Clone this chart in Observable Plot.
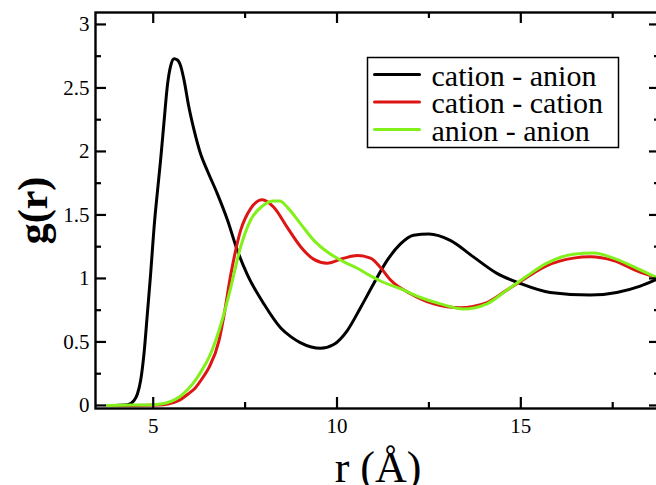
<!DOCTYPE html>
<html><head><meta charset="utf-8">
<script src="https://cdn.jsdelivr.net/npm/d3@7"></script>
<script src="https://cdn.jsdelivr.net/npm/@observablehq/plot@0.6"></script>
<style>
html,body{margin:0;padding:0;background:#fff;overflow:hidden;width:656px;height:485px;}
#chart svg{max-width:none !important;display:block;}
</style></head><body><div id="chart"></div><script>
// cation - anion
const rCA = [3.98,4.3,4.48,4.57,4.66,4.75,4.84,4.92,5.04,5.11,5.2,5.29,5.39,5.48,5.57,5.66,5.75,5.84,5.97,6.11,6.29,6.47,6.74,7.02,7.29,7.56,8.01,8.47,8.75,9.0,9.3,9.55,9.91,10.28,10.64,11.0,11.36,11.72,12.08,12.5,13.08,13.71,14.35,14.99,15.8,16.89,17.61,18.25,18.75];
const gCA = [0.0,0.005,0.04,0.09,0.2,0.41,0.72,1.0,1.46,1.67,1.93,2.22,2.53,2.68,2.73,2.72,2.67,2.56,2.35,2.17,1.98,1.85,1.67,1.46,1.22,1.03,0.80,0.61,0.54,0.495,0.46,0.45,0.48,0.59,0.77,0.96,1.14,1.27,1.34,1.35,1.30,1.17,1.04,0.96,0.89,0.87,0.89,0.94,1.0];
// cation - cation
const rCC = [3.76,4.5,5.15,5.4,5.7,5.95,6.15,6.35,6.52,6.79,6.92,7.11,7.38,7.65,7.97,8.28,8.65,9.01,9.37,9.73,10.19,10.55,10.91,11.2,11.45,12.0,12.63,13.36,13.7,14.08,14.63,15.17,15.71,16.43,16.89,17.52,18.16,18.75];
const gCC = [0.0,0.0,0.003,0.012,0.04,0.09,0.14,0.22,0.30,0.51,0.70,1.03,1.38,1.55,1.62,1.56,1.40,1.25,1.15,1.12,1.16,1.18,1.16,1.08,0.99,0.88,0.80,0.77,0.78,0.81,0.91,1.01,1.10,1.16,1.17,1.14,1.06,1.0];
// anion - anion
const rAA = [3.76,4.5,5.0,5.25,5.5,5.7,5.95,6.15,6.35,6.52,6.79,6.97,7.11,7.38,7.65,7.97,8.28,8.45,8.65,9.01,9.37,9.73,10.19,10.55,10.91,11.18,11.72,12.27,12.81,13.44,14.08,14.63,15.17,15.71,16.43,16.98,17.52,18.16,18.75];
const gAA = [0.0,0.003,0.006,0.013,0.035,0.065,0.13,0.2,0.29,0.38,0.59,0.77,0.93,1.25,1.46,1.57,1.61,1.61,1.56,1.43,1.30,1.21,1.13,1.08,1.02,0.98,0.92,0.85,0.80,0.76,0.80,0.91,1.02,1.12,1.19,1.20,1.16,1.08,1.0];

const seriesNames = ["cation - anion", "cation - cation", "anion - anion"];
const seriesColors = ["#000000", "#dd1515", "#82f01a"];
const xMajor = [5, 10, 15];
const xMinor = [7.5, 12.5, 17.5];
const yMajor = [0, 0.5, 1, 1.5, 2, 2.5, 3];
const yMinor = [0.25, 0.75, 1.25, 1.75, 2.25, 2.75];
const xLabel = "r (Å)";
const yLabel = "g(r)";

const series = [[rCA, gCA], [rCC, gCC], [rAA, gAA]].map(([r, g], i) =>
  r.map((v, j) => ({r: v, g: g[j], name: seriesNames[i]})));

const FONT = "Liberation Serif, Times New Roman, serif";
const ML = 95, MT = 12, W = 700, H = 485, MR = 40, MB = 77;
const PW = W - ML - MR, PH = H - MT - MB;
const lineShape = {draw(ctx, l) { ctx.moveTo(0, 0); ctx.lineTo(0, -l); }};
const tx = (data, side, len) => Plot.tickX(data, {x: d => d, stroke: "black", strokeWidth: 2.2,
  [side === "bottom" ? "insetTop" : "insetBottom"]: PH - len});
const ty = (data, side, len) => Plot.tickY(data, {y: d => d, stroke: "black", strokeWidth: 2.2,
  [side === "left" ? "insetRight" : "insetLeft"]: PW - len});

const legendX = 367, legendY = 57, legendR = 618, legendB = 147;
const rowY = [74, 101.5, 129];

const marks = [
  ...series.map((s, i) => Plot.line(s, {x: "r", y: "g", stroke: seriesColors[i], strokeWidth: 3, curve: "monotone-x"})),
  Plot.frame({stroke: "black", strokeWidth: 2.4}),
  tx(xMajor, "bottom", 11), tx(xMinor, "bottom", 6), tx(xMajor, "top", 11), tx(xMinor, "top", 6),
  ty(yMajor, "left", 11), ty(yMinor, "left", 6), ty(yMajor, "right", 11), ty(yMinor, "right", 6),
  Plot.axisX({ticks: xMajor, tickSize: 0, tickPadding: 10, label: null, fontSize: 21, fill: "black"}),
  Plot.axisY({ticks: yMajor, tickSize: 0, tickPadding: 6, label: null, fontSize: 21, fill: "black", tickFormat: d => String(d)}),
  Plot.text([xLabel], {frameAnchor: "bottom", dy: 73, lineAnchor: "bottom", textAnchor: "middle", fontSize: 44, fill: "black"}),
  Plot.text([yLabel], {frameAnchor: "left", dx: -62, rotate: -90, lineAnchor: "middle", textAnchor: "middle", fontSize: 42, fontWeight: "bold", fill: "black"}),
  Plot.frame({stroke: "black", strokeWidth: 1.5, fill: "white",
    insetLeft: legendX - ML, insetTop: legendY - MT, insetRight: (W - MR) - legendR, insetBottom: (H - MB) - legendB}),
  ...seriesNames.map((name, i) => Plot.vector([name], {frameAnchor: "top-left", dx: 374 - ML, dy: rowY[i] - MT,
    rotate: 90, length: 45, anchor: "start", shape: lineShape, stroke: seriesColors[i], strokeWidth: 3})),
  ...seriesNames.map((name, i) => Plot.text([name], {frameAnchor: "top-left", dx: 431 - ML, dy: rowY[i] - MT + 1.5,
    textAnchor: "start", lineAnchor: "middle", fontSize: 30, fill: "black"}))
];

const chart = Plot.plot({
  width: W, height: H,
  marginLeft: ML, marginTop: MT, marginRight: MR, marginBottom: MB,
  x: {domain: [3.43, 18.8]},
  y: {domain: [-0.024, 3.094]},
  style: {fontFamily: FONT, background: "white", color: "black"},
  marks
});
document.getElementById("chart").appendChild(chart);
</script></body></html>
